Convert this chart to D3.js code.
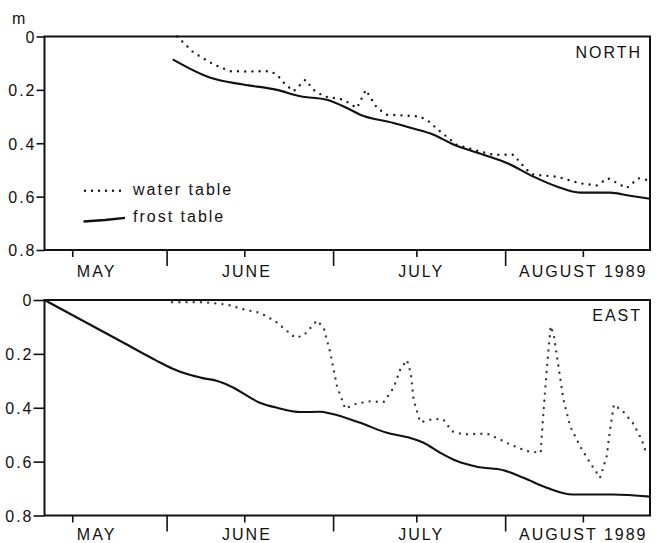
<!DOCTYPE html>
<html>
<head>
<meta charset="utf-8">
<script src="https://cdn.jsdelivr.net/npm/d3@7"></script>
<style>
  html, body { margin: 0; padding: 0; background: #fff; }
  svg text { font-family: "Liberation Sans", Arial, Helvetica, sans-serif; font-size: 16px; letter-spacing: 2px; fill: #111; }
</style>
</head>
<body>
<svg id="chart" width="659" height="543"></svg>
<script>
// Depth below surface (m) of the water table and the frost table, summer 1989.
// x values are day of year 1989 (May 10 = 130, Aug 27 = 239).

const dayDomain = [130, 239.1];
const depthTicks = [0, 0.2, 0.4, 0.6, 0.8];
const depthTickLabels = ["0", "0.2", "0.4", "0.6", "0.8"];
const monthStartDays = [152, 182, 213];          // June 1, July 1, Aug 1
const midMonthDays = [135, 166, 197, 227];        // mid-month ticks
const monthNames = ["MAY", "JUNE", "JULY", "AUGUST 1989"];
const monthLabelDays = [139.2, 166.3, 197.7, 226.9];

// NORTH site
const northWaterDay = [153.9, 156.9, 160.5, 163.5, 166.5, 170.7, 171.9, 173.4, 174.9, 177.0, 178.5, 180.3, 183.9, 186.3, 187.9, 189.9, 191.7, 195.9, 197.7, 199.2, 201.3, 204.3, 208.5, 210.9, 214.5, 216.9, 218.1, 222.3, 226.5, 229.5, 231.5, 234.9, 237.0, 238.5];
const northWaterDepth = [0, 0.061, 0.105, 0.13, 0.131, 0.13, 0.143, 0.18, 0.205, 0.162, 0.2, 0.224, 0.237, 0.268, 0.2, 0.268, 0.293, 0.297, 0.3, 0.318, 0.356, 0.406, 0.431, 0.443, 0.443, 0.5, 0.518, 0.525, 0.55, 0.558, 0.531, 0.568, 0.531, 0.537];
const northFrostDay = [153.1, 159.9, 165.8, 171.9, 176.1, 180.9, 184.5, 186.9, 192.9, 195.9, 200.1, 203.7, 209.1, 213.3, 218.1, 222.3, 226.5, 231.9, 235.5, 239.1];
const northFrostDepth = [0.086, 0.155, 0.18, 0.2, 0.224, 0.237, 0.268, 0.293, 0.324, 0.342, 0.368, 0.405, 0.443, 0.474, 0.525, 0.562, 0.585, 0.585, 0.597, 0.608];

// EAST site
const eastWaterDay = [153.0, 158.7, 162.9, 165.9, 168.9, 171.6, 173.4, 175.2, 176.7, 179.1, 180.3, 181.5, 182.7, 184.2, 185.7, 188.4, 191.1, 192.9, 194.1, 195.3, 196.0, 196.5, 197.7, 200.1, 201.9, 203.4, 205.5, 209.7, 211.5, 213.9, 216.9, 219.4, 219.8, 220.5, 221.2, 221.8, 222.6, 223.5, 224.7, 226.5, 228.3, 230.1, 231.3, 231.9, 232.6, 234.2, 236.0, 237.6, 238.5];
const eastWaterDepth = [0.008, 0.008, 0.017, 0.035, 0.048, 0.079, 0.11, 0.14, 0.132, 0.076, 0.103, 0.196, 0.32, 0.404, 0.388, 0.376, 0.379, 0.326, 0.258, 0.223, 0.27, 0.369, 0.454, 0.441, 0.444, 0.487, 0.499, 0.496, 0.512, 0.536, 0.561, 0.567, 0.444, 0.258, 0.097, 0.134, 0.246, 0.369, 0.468, 0.543, 0.604, 0.66, 0.58, 0.481, 0.388, 0.413, 0.456, 0.518, 0.574];
const eastFrostDay = [130, 137, 144, 150, 153, 156, 158.5, 161, 163.5, 168.9, 171.9, 176.1, 179.7, 181.5, 186.9, 191.7, 195.9, 198.3, 201.3, 204.3, 207.9, 212.7, 216.3, 220.5, 225.2, 232.4, 239.1];
const eastFrostDepth = [0, 0.078, 0.156, 0.223, 0.254, 0.277, 0.29, 0.3, 0.32, 0.382, 0.4, 0.416, 0.415, 0.421, 0.456, 0.493, 0.512, 0.53, 0.567, 0.598, 0.619, 0.632, 0.66, 0.697, 0.722, 0.722, 0.73];

const svg = d3.select("#chart");
const left = 44.5, right = 650;

const x = d3.scaleLinear().domain(dayDomain).range([left, right]);

const panels = [
  { name: "NORTH", top: 36.5, bottom: 250, tickLen: 8, labelBaseline: 276.7,
    water: d3.zip(northWaterDay, northWaterDepth), frost: d3.zip(northFrostDay, northFrostDepth),
    waterColor: "#1a1a1a", legend: true },
  { name: "EAST", top: 300, bottom: 515.5, tickLen: 11, labelBaseline: 540,
    water: d3.zip(eastWaterDay, eastWaterDepth), frost: d3.zip(eastFrostDay, eastFrostDepth),
    waterColor: "#3a3a3a", legend: false }
];

panels.forEach(p => {
  const y = d3.scaleLinear().domain([0, 0.8]).range([p.top, p.bottom]);
  const g = svg.append("g");

  // depth axis
  const yAxis = d3.axisLeft(y).tickValues(depthTicks)
    .tickFormat((d, i) => depthTickLabels[i]).tickSize(p.tickLen).tickPadding(2);
  const ya = g.append("g").attr("transform", `translate(${left},0)`).call(yAxis);
  ya.select(".domain").remove();
  ya.selectAll(".tick line").attr("stroke", "#111").attr("stroke-width", 1.6);
  ya.selectAll(".tick text").attr("font-size", null).attr("font-family", null)
    .attr("dy", "0.36em").attr("dx", "2");

  // month boundary ticks (long) and mid-month ticks (short)
  const xLong = d3.axisBottom(x).tickValues(monthStartDays).tickSize(16).tickFormat("");
  const xShort = d3.axisBottom(x).tickValues(midMonthDays).tickSize(7).tickFormat("");
  [xLong, xShort].forEach(ax => {
    const a = g.append("g").attr("transform", `translate(0,${p.bottom})`).call(ax);
    a.select(".domain").remove();
    a.selectAll(".tick line").attr("stroke", "#111").attr("stroke-width", 1.6);
  });

  // month names
  g.selectAll(".month").data(monthNames).join("text")
    .attr("class", "month")
    .attr("x", (d, i) => x(monthLabelDays[i]) + 1)
    .attr("y", p.labelBaseline)
    .attr("text-anchor", "middle")
    .text(d => d);

  // frame
  g.append("rect")
    .attr("x", left).attr("y", p.top)
    .attr("width", right - left).attr("height", p.bottom - p.top)
    .attr("fill", "none").attr("stroke", "#111").attr("stroke-width", 2);

  // frost table: smooth solid curve
  const frostLine = d3.line().x(d => x(d[0])).y(d => y(d[1])).curve(d3.curveMonotoneX);
  g.append("path").datum(p.frost).attr("d", frostLine)
    .attr("fill", "none").attr("stroke", "#111").attr("stroke-width", 2.1)
    .attr("stroke-linejoin", "round");

  // water table: dotted
  const waterLine = d3.line().x(d => x(d[0])).y(d => y(d[1])).curve(d3.curveLinear);
  g.append("path").datum(p.water).attr("d", waterLine)
    .attr("fill", "none").attr("stroke", p.waterColor).attr("stroke-width", 2.4)
    .attr("stroke-linecap", "round").attr("stroke-dasharray", "0 7.2");

  // site name
  g.append("text")
    .attr("x", right - 8).attr("y", p.top + 21)
    .attr("text-anchor", "end").text(p.name);

  if (p.legend) {
    const lg = g.append("g");
    lg.append("line").attr("x1", 85).attr("x2", 121).attr("y1", 190.7).attr("y2", 190.7)
      .attr("stroke", "#111").attr("stroke-width", 2.4)
      .attr("stroke-linecap", "round").attr("stroke-dasharray", "0 7");
    lg.append("text").attr("x", 133).attr("y", 194.5).text("water table");
    lg.append("path").attr("d", "M83.5,221.5 L105,220 L125,217.8")
      .attr("fill", "none").attr("stroke", "#111").attr("stroke-width", 2.3);
    lg.append("text").attr("x", 133).attr("y", 221.7).text("frost table");
  }
});

// unit label
svg.append("text").attr("x", 12).attr("y", 23.5).attr("letter-spacing", 0).text("m");
</script>
</body>
</html>
